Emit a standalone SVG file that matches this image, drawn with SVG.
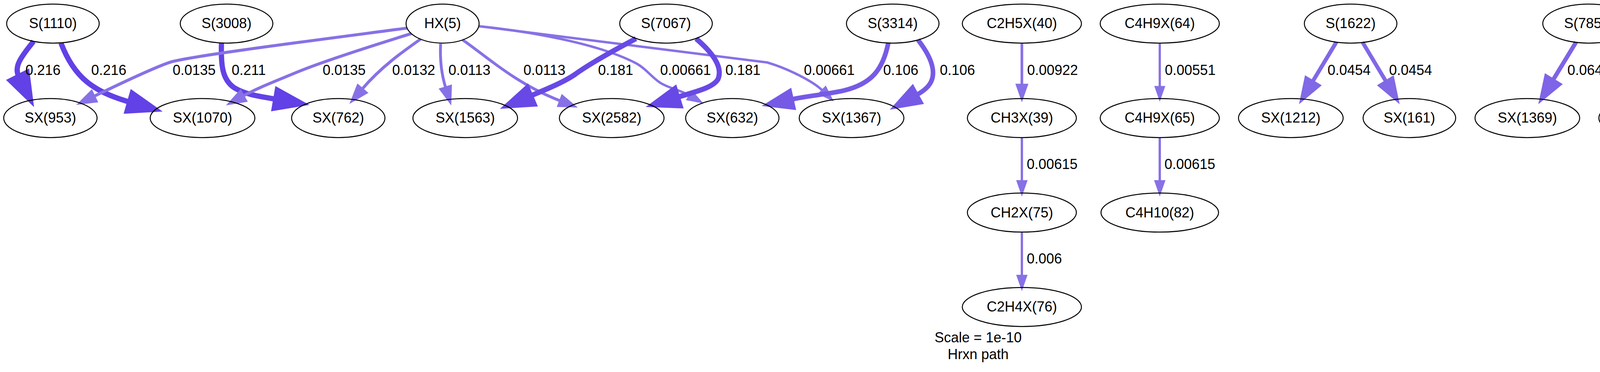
<svg xmlns="http://www.w3.org/2000/svg" width="5006" height="953" viewBox="0 0 5006 953">
<style>
text { font-family: "Liberation Sans", Arial, Helvetica, sans-serif; font-size: 36px; fill: #000; }
.node ellipse { fill: none; stroke: #000; stroke-width: 2.5; }
.node text { text-anchor: middle; }
.edge path { fill: none; stroke-linejoin: miter; }
.c216 { stroke: rgb(98,65,230); }
.c211 { stroke: rgb(99,66,230); }
.c181 { stroke: rgb(104,73,230); }
.c106 { stroke: rgb(118,90,230); }
.c0647 { stroke: rgb(126,100,230); }
.c0454 { stroke: rgb(129,104,230); }
.cL { stroke: rgb(136,113,230); }
</style>
<defs>
<marker id="m216" markerUnits="strokeWidth" markerWidth="8" markerHeight="8" refX="0" refY="0" orient="auto" overflow="visible"><path d="M0,-1.75 L5,0 L0,1.75 Z" fill="rgb(98,65,230)" stroke="rgb(98,65,230)" stroke-width="1"/></marker>
<marker id="m181" markerUnits="strokeWidth" markerWidth="8" markerHeight="8" refX="0" refY="0" orient="auto" overflow="visible"><path d="M0,-1.75 L5,0 L0,1.75 Z" fill="rgb(104,73,230)" stroke="rgb(104,73,230)" stroke-width="1"/></marker>
<marker id="m106" markerUnits="strokeWidth" markerWidth="8" markerHeight="8" refX="0" refY="0" orient="auto" overflow="visible"><path d="M0,-1.75 L5,0 L0,1.75 Z" fill="rgb(118,90,230)" stroke="rgb(118,90,230)" stroke-width="1"/></marker>
<marker id="m0647" markerUnits="strokeWidth" markerWidth="8" markerHeight="8" refX="0" refY="0" orient="auto" overflow="visible"><path d="M0,-1.75 L5,0 L0,1.75 Z" fill="rgb(126,100,230)" stroke="rgb(126,100,230)" stroke-width="1"/></marker>
<marker id="m0454" markerUnits="strokeWidth" markerWidth="8" markerHeight="8" refX="0" refY="0" orient="auto" overflow="visible"><path d="M0,-1.75 L5,0 L0,1.75 Z" fill="rgb(129,104,230)" stroke="rgb(129,104,230)" stroke-width="1"/></marker>
<marker id="mL" markerUnits="strokeWidth" markerWidth="8" markerHeight="8" refX="0" refY="0" orient="auto" overflow="visible"><path d="M0,-1.75 L5,0 L0,1.75 Z" fill="rgb(136,113,230)" stroke="rgb(136,113,230)" stroke-width="1"/></marker>
</defs>
<rect x="0" y="0" width="5006" height="953" fill="#fff"/>

<g id="connectors">
<g id="e1" class="edge"><path class="c216" stroke-width="13.46" marker-end="url(#m216)" d="M86,106 C50,150 36,172 48,196"/><text x="65" y="191.5">0.216</text></g>
<g id="e2" class="edge"><path class="c216" stroke-width="13.46" marker-end="url(#m216)" d="M156,110 C190,200 240,235 332,261.5"/><text x="233.5" y="191.5">0.216</text></g>
<g id="e3" class="edge"><path class="c211" stroke-width="13.41" marker-end="url(#m216)" d="M567,110 C565,170 570,205 600,225 C630,243 665,247 706,254"/><text x="593" y="191.5">0.211</text></g>
<g id="e4" class="edge"><path class="cL" stroke-width="7.65" marker-end="url(#mL)" d="M1042,72 C800,104 500,142 440,158 C400,170 300,218 240,247"/><text x="442" y="191.5">0.0135</text></g>
<g id="e5" class="edge"><path class="cL" stroke-width="7.65" marker-end="url(#mL)" d="M1053,86 C950,118 820,160 760,185 C700,210 660,225 622,246"/><text x="826" y="191.5">0.0135</text></g>
<g id="e6" class="edge"><path class="cL" stroke-width="7.6" marker-end="url(#mL)" d="M1077,100 C1030,133 975,172 926.6,228.7"/><text x="1004" y="191.5">0.0132</text></g>
<g id="e7" class="edge"><path class="cL" stroke-width="7.27" marker-end="url(#mL)" d="M1128,112 C1126,150 1130,190 1141,225"/><text x="1148" y="191.5">0.0113</text></g>
<g id="e8" class="edge"><path class="cL" stroke-width="7.27" marker-end="url(#mL)" d="M1184,102 C1240,140 1320,215 1435,258.6"/><text x="1340" y="191.5">0.0113</text></g>
<g id="e9" class="edge"><path class="cL" stroke-width="6.15" marker-end="url(#mL)" d="M1225,67 C1350,80 1530,110 1630,163 C1655,177 1665,195 1690,212 C1712,226 1740,230 1766,245"/><text x="1690" y="191.5">0.00661</text></g>
<g id="e10" class="edge"><path class="cL" stroke-width="6.15" marker-end="url(#mL)" d="M1225,67 L1964,160 C2015,175 2080,207 2105.7,232"/><text x="2058" y="191.5">0.00661</text></g>
<g id="e11" class="edge"><path class="c181" stroke-width="13.09" marker-end="url(#m181)" d="M1628,99 C1560,135 1500,170 1470,192 C1440,212 1400,228 1358.4,245.6"/><text x="1531" y="191.5">0.181</text></g>
<g id="e12" class="edge"><path class="c181" stroke-width="13.09" marker-end="url(#m181)" d="M1782,99 C1830,140 1850,175 1838,203 C1825,225 1780,235 1734.4,249"/><text x="1857" y="191.5">0.181</text></g>
<g id="e13" class="edge"><path class="c106" stroke-width="11.97" marker-end="url(#m106)" d="M2274,110 C2260,180 2230,215 2160,232 C2110,243 2070,245 2026,254.7"/><text x="2261" y="191.5">0.106</text></g>
<g id="e14" class="edge"><path class="c106" stroke-width="11.97" marker-end="url(#m106)" d="M2350,102 C2395,160 2398,200 2372,225 C2365,232 2356,238 2346,243.5"/><text x="2406" y="191.5">0.106</text></g>
<g id="e15" class="edge"><path class="cL" stroke-width="6.84" marker-end="url(#mL)" d="M2616,110 L2616,217.8"/><text x="2629.5" y="191.5">0.00922</text></g>
<g id="e16" class="edge"><path class="cL" stroke-width="5.99" marker-end="url(#mL)" d="M2616,352 L2616,464.6"/><text x="2628.5" y="433">0.00615</text></g>
<g id="e17" class="edge"><path class="cL" stroke-width="5.94" marker-end="url(#mL)" d="M2616,594.6 L2616,707"/><text x="2628.5" y="675">0.006</text></g>
<g id="e18" class="edge"><path class="cL" stroke-width="5.76" marker-end="url(#mL)" d="M2969,110 L2969,223.2"/><text x="2982" y="191.5">0.00551</text></g>
<g id="e19" class="edge"><path class="cL" stroke-width="5.99" marker-end="url(#mL)" d="M2969,352 L2969,464.6"/><text x="2981" y="433">0.00615</text></g>
<g id="e20" class="edge"><path class="c0454" stroke-width="10.19" marker-end="url(#m0454)" d="M3421,108 L3359.6,210.1"/><text x="3398.6" y="191.5">0.0454</text></g>
<g id="e21" class="edge"><path class="c0454" stroke-width="10.19" marker-end="url(#m0454)" d="M3488,108 L3549,210"/><text x="3556" y="191.5">0.0454</text></g>
<g id="e22" class="edge"><path class="c0647" stroke-width="10.93" marker-end="url(#m0647)" d="M4034.7,108 L3975,206.2"/><text x="4012.4" y="191.5">0.0647</text></g>
<g id="e23" class="edge"><path class="c0647" stroke-width="10.93" marker-end="url(#m0647)" d="M4104.9,108 L4165.8,206.5"/><text x="4175" y="191.5">0.0647</text></g>
<g id="e24" class="edge"><path class="cL" stroke-width="6.21" marker-end="url(#mL)" d="M4669.3,108 L4594,226"/><text x="4645" y="191.5">0.0068</text></g>
<g id="e25" class="edge"><path class="cL" stroke-width="6.21" marker-end="url(#mL)" d="M4736.2,108 L4811.7,226.9"/><text x="4806.4" y="191.5">0.0068</text></g>
</g>

<g id="n_S1110" class="node"><ellipse cx="135.5" cy="60.4" rx="118.5" ry="50"/><text x="135.5" y="72.4">S(1110)</text></g>
<g id="n_S3008" class="node"><ellipse cx="580" cy="60.4" rx="118.5" ry="50"/><text x="580" y="72.4">S(3008)</text></g>
<g id="n_HX5" class="node"><ellipse cx="1133" cy="60.4" rx="93.5" ry="50"/><text x="1133" y="72.4">HX(5)</text></g>
<g id="n_S7067" class="node"><ellipse cx="1705" cy="60.4" rx="118.5" ry="50"/><text x="1705" y="72.4">S(7067)</text></g>
<g id="n_S3314" class="node"><ellipse cx="2285.4" cy="60.4" rx="118.5" ry="50"/><text x="2285.4" y="72.4">S(3314)</text></g>
<g id="n_C2H5X40" class="node"><ellipse cx="2616" cy="60.4" rx="152.5" ry="50"/><text x="2616" y="72.4">C2H5X(40)</text></g>
<g id="n_C4H9X64" class="node"><ellipse cx="2969" cy="60.4" rx="152.5" ry="50"/><text x="2969" y="72.4">C4H9X(64)</text></g>
<g id="n_S1622" class="node"><ellipse cx="3457.6" cy="60.4" rx="118.5" ry="50"/><text x="3457.6" y="72.4">S(1622)</text></g>
<g id="n_S7855" class="node"><ellipse cx="4068" cy="60.4" rx="118.5" ry="50"/><text x="4068" y="72.4">S(7855)</text></g>
<g id="n_S7066" class="node"><ellipse cx="4701.8" cy="60.4" rx="118.5" ry="50"/><text x="4701.8" y="72.4">S(7066)</text></g>

<g id="n_SX953" class="node"><ellipse cx="129" cy="302.4" rx="119.5" ry="50"/><text x="129" y="314.4">SX(953)</text></g>
<g id="n_SX1070" class="node"><ellipse cx="518.5" cy="302.4" rx="134" ry="50"/><text x="518.5" y="314.4">SX(1070)</text></g>
<g id="n_SX762" class="node"><ellipse cx="866" cy="302.4" rx="119.5" ry="50"/><text x="866" y="314.4">SX(762)</text></g>
<g id="n_SX1563" class="node"><ellipse cx="1191" cy="302.4" rx="134" ry="50"/><text x="1191" y="314.4">SX(1563)</text></g>
<g id="n_SX2582" class="node"><ellipse cx="1566" cy="302.4" rx="134" ry="50"/><text x="1566" y="314.4">SX(2582)</text></g>
<g id="n_SX632" class="node"><ellipse cx="1874.7" cy="302.4" rx="119.5" ry="50"/><text x="1874.7" y="314.4">SX(632)</text></g>
<g id="n_SX1367" class="node"><ellipse cx="2180" cy="302.4" rx="134" ry="50"/><text x="2180" y="314.4">SX(1367)</text></g>
<g id="n_CH3X39" class="node"><ellipse cx="2616" cy="302.4" rx="139.5" ry="50"/><text x="2616" y="314.4">CH3X(39)</text></g>
<g id="n_C4H9X65" class="node"><ellipse cx="2969" cy="302.4" rx="152.5" ry="50"/><text x="2969" y="314.4">C4H9X(65)</text></g>
<g id="n_SX1212" class="node"><ellipse cx="3304.5" cy="302.4" rx="134" ry="50"/><text x="3304.5" y="314.4">SX(1212)</text></g>
<g id="n_SX161" class="node"><ellipse cx="3608" cy="302.4" rx="118.5" ry="50"/><text x="3608" y="314.4">SX(161)</text></g>
<g id="n_SX1369" class="node"><ellipse cx="3910" cy="302.4" rx="134" ry="50"/><text x="3910" y="314.4">SX(1369)</text></g>
<g id="n_SX2310" class="node"><ellipse cx="4227" cy="302.4" rx="134" ry="50"/><text x="4227" y="314.4">SX(2310)</text></g>
<g id="n_SX2584" class="node"><ellipse cx="4543.6" cy="302.4" rx="134" ry="50"/><text x="4543.6" y="314.4">SX(2584)</text></g>
<g id="n_SX2058" class="node"><ellipse cx="4860.6" cy="302.4" rx="134" ry="50"/><text x="4860.6" y="314.4">SX(2058)</text></g>

<g id="n_CH2X75" class="node"><ellipse cx="2616" cy="544.6" rx="139.5" ry="50"/><text x="2616" y="556.6">CH2X(75)</text></g>
<g id="n_C4H10_82" class="node"><ellipse cx="2969" cy="544.6" rx="150.5" ry="50"/><text x="2969" y="556.6">C4H10(82)</text></g>
<g id="n_C2H4X76" class="node"><ellipse cx="2616" cy="786.4" rx="152.5" ry="50"/><text x="2616" y="798.4">C2H4X(76)</text></g>

<g id="graph_label">
<text x="2504" y="877" text-anchor="middle">Scale = 1e-10</text>
<text x="2504" y="920" text-anchor="middle">Hrxn path</text>
</g>
</svg>
